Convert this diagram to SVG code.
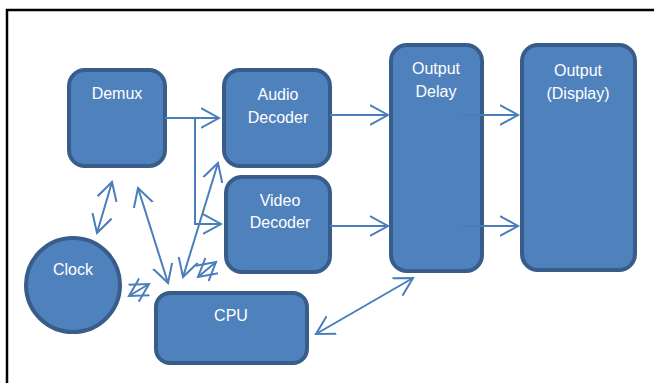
<svg xmlns="http://www.w3.org/2000/svg" width="654" height="383" viewBox="0 0 654 383">
<style>
.box{fill:#4f81bd;stroke:#385d8a;stroke-width:4}
.lbl{font-family:"Liberation Sans",Arial,sans-serif;font-size:16px;fill:#ffffff;text-anchor:middle}
.c{fill:none;stroke:#4a7ebb;stroke-width:2}
</style>
<defs>
<marker id="ah" markerUnits="userSpaceOnUse" markerWidth="22" markerHeight="24" refX="18" refY="11" orient="auto-start-reverse" viewBox="0 0 22 24">
<path d="M0,1 L18,11 L0,21" fill="none" stroke="#4a7ebb" stroke-width="2"/>
</marker>
</defs>
<rect width="654" height="383" fill="#ffffff"/>
<path d="M7,383 L7,10 L654,10" fill="none" stroke="#000000" stroke-width="2.5"/>

<g id="demux"><rect class="box" x="69" y="70" width="96" height="96" rx="16"/><text class="lbl" x="117" y="99">Demux</text></g>
<g id="audio"><rect class="box" x="224" y="70" width="106" height="96" rx="16"/><text class="lbl" x="278" y="100">Audio</text><text class="lbl" x="278" y="123">Decoder</text></g>
<g id="video"><rect class="box" x="226" y="177" width="104" height="95" rx="16"/><text class="lbl" x="280" y="206">Video</text><text class="lbl" x="280" y="228">Decoder</text></g>
<g id="outdelay"><rect class="box" x="391" y="45" width="91" height="226" rx="16"/><text class="lbl" x="436" y="74">Output</text><text class="lbl" x="436" y="97">Delay</text></g>
<g id="display"><rect class="box" x="522" y="45" width="113" height="225" rx="16"/><text class="lbl" x="578" y="76">Output</text><text class="lbl" x="578" y="99">(Display)</text></g>
<g id="clock"><circle class="box" cx="73" cy="285" r="47"/><text class="lbl" x="73" y="275">Clock</text></g>
<g id="cpu"><rect class="box" x="156" y="293" width="151" height="70" rx="14"/><text class="lbl" x="231" y="321">CPU</text></g>

<g id="connectors">
<path class="c" d="M165,118 L219,118" marker-end="url(#ah)"/>
<path class="c" d="M195,118 L195,224 L221,224" marker-end="url(#ah)"/>
<path class="c" d="M183,277 L218,163" marker-start="url(#ah)" marker-end="url(#ah)"/>
<path class="c" d="M138,188 L168,283" marker-start="url(#ah)" marker-end="url(#ah)"/>
<path class="c" d="M112,182 L97,233" marker-start="url(#ah)" marker-end="url(#ah)"/>
<path class="c" d="M129,296 L149,284" marker-start="url(#ah)" marker-end="url(#ah)"/>
<path class="c" d="M198,277 L216,262" marker-start="url(#ah)" marker-end="url(#ah)"/>
<path class="c" d="M316,334 L413,278" marker-start="url(#ah)" marker-end="url(#ah)"/>
<path class="c" d="M330,115 L388,115" marker-end="url(#ah)"/>
<path class="c" d="M330,226 L388,226" marker-end="url(#ah)"/>
<path class="c" d="M460,115 L518,115" marker-end="url(#ah)"/>
<path class="c" d="M460,226 L518,226" marker-end="url(#ah)"/>
</g>
</svg>
